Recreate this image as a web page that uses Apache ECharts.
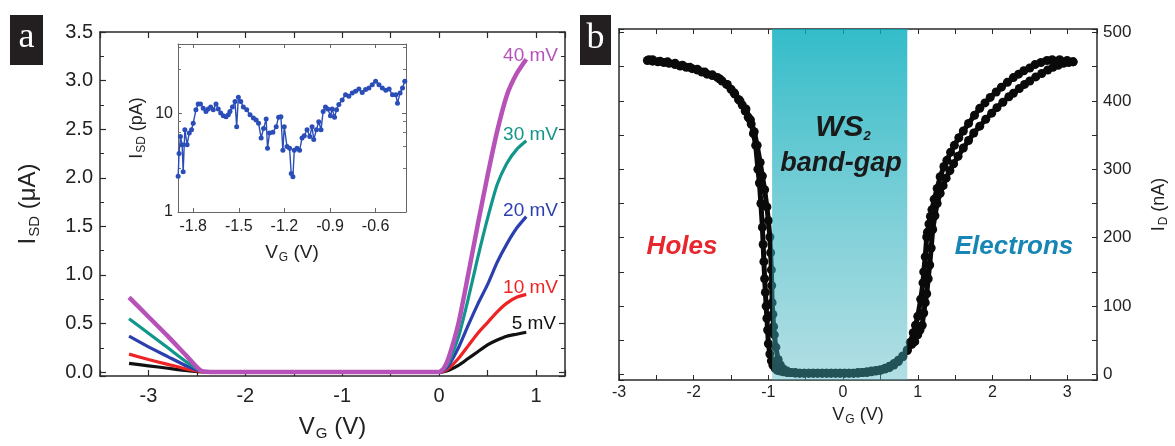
<!DOCTYPE html>
<html>
<head>
<meta charset="utf-8">
<script src="https://cdn.jsdelivr.net/npm/echarts@6/dist/echarts.min.js"></script>
<style>
    html,body{margin:0;padding:0;background:#fff;}
    #chart{width:1175px;height:446px;}
</style>
</head>
<body>
<div id="chart"></div>
<script>
// ---- (a) I_SD vs V_G at five bias voltages ----
var biasNames = ['5 mV', '10 mV', '20 mV', '30 mV', '40 mV'];
var biasColors = ['#111111', '#ee2424', '#2b3fae', '#10968a', '#b652b8'];
var gateV = [-3.2, -3.0, -2.8, -2.6, -2.45, -2.3, 0, 0.05, 0.1, 0.2, 0.3, 0.4, 0.5, 0.6, 0.7, 0.8, 0.9];
var isd5  = [0.09, 0.065, 0.04, 0.015, 0.003, 0, 0, 0.005, 0.02, 0.07, 0.14, 0.21, 0.28, 0.33, 0.37, 0.39, 0.41];
var isd10 = [0.185, 0.13, 0.08, 0.03, 0.005, 0, 0, 0.01, 0.04, 0.14, 0.27, 0.4, 0.51, 0.62, 0.71, 0.77, 0.8];
var isd20 = [0.37, 0.26, 0.16, 0.06, 0.01, 0, 0, 0.02, 0.07, 0.25, 0.48, 0.7, 0.9, 1.13, 1.32, 1.48, 1.6];
var isd30 = [0.55, 0.40, 0.25, 0.1, 0.01, 0, 0, 0.03, 0.1, 0.36, 0.75, 1.18, 1.58, 1.93, 2.15, 2.29, 2.38];
var isd40 = [0.77, 0.57, 0.37, 0.16, 0.01, 0, 0, 0.04, 0.15, 0.5, 1.0, 1.52, 2.02, 2.48, 2.85, 3.07, 3.22];

// inset: I_SD (pA) on log scale
var insetV = [-1.899, -1.893, -1.884, -1.873, -1.866, -1.855, -1.840, -1.826, -1.811, -1.800,
    -1.782, -1.767, -1.752, -1.734, -1.716, -1.701, -1.685, -1.668, -1.650, -1.635,
    -1.619, -1.602, -1.584, -1.569, -1.558, -1.542, -1.525, -1.514, -1.503, -1.487,
    -1.470, -1.448, -1.426, -1.404, -1.386, -1.370, -1.353, -1.337, -1.320, -1.311,
    -1.298, -1.276, -1.254, -1.238, -1.223, -1.210, -1.201, -1.183, -1.166, -1.155,
    -1.144, -1.135, -1.117, -1.100, -1.084, -1.069, -1.051, -1.033, -1.018, -1.007,
    -0.989, -0.974, -0.959, -0.945, -0.930, -0.915, -0.897, -0.886, -0.870, -0.857,
    -0.842, -0.820, -0.798, -0.776, -0.754, -0.732, -0.710, -0.688, -0.666, -0.644,
    -0.622, -0.600, -0.578, -0.556, -0.533, -0.511, -0.489, -0.467, -0.456, -0.439,
    -0.423, -0.408];
var insetI = [2.3, 3.9, 5.8, 4.8, 2.55, 6.8, 4.8, 6.3, 6.8, 7.9,
    10.8, 12.4, 12.4, 11.2, 10.4, 11, 11.5, 10.8, 12.4, 11,
    10, 9.4, 9.2, 9.6, 10.4, 11.5, 13.1, 7.3, 14.5, 13.1,
    11.5, 10.8, 9.6, 8.9, 8.5, 7.9, 5.6, 7.0, 8.7, 4.4,
    6.3, 6.4, 7.3, 9.1, 9.2, 4.2, 7.3, 4.6, 4.4, 2.45,
    2.27, 4.2, 4.4, 4.2, 5.6, 5.9, 6.8, 5.8, 7.3, 5.4,
    6.8, 8.2, 6.8, 10.4, 11.5, 11, 9.4, 11, 9.1, 10.8,
    12.2, 13.6, 15.3, 14.8, 16, 16.6, 17.5, 16.2, 17.3, 17.9,
    19.4, 21, 19.4, 17.9, 17, 17.5, 15.3, 15.3, 12.6, 16,
    17.9, 21];

// ---- (b) I_D vs V_G, two sweep directions ----
var sweepAV = [-2.62, -2.55, -2.48, -2.4, -2.33, -2.25, -2.18, -2.1, -2.02, -1.95,
    -1.89, -1.82, -1.75, -1.68, -1.62, -1.56, -1.5, -1.45, -1.4, -1.35,
    -1.31, -1.27, -1.23, -1.2, -1.17, -1.14, -1.12, -1.1, -1.08, -1.07,
    -1.06, -1.05, -1.04, -1.03, -1.02, -1.01, -1.0, -0.98, -0.96, -0.94,
    -0.91, -0.88, -0.84, -0.8, -0.75, -0.7, -0.64, -0.58, -0.52, -0.46,
    -0.4, -0.34, -0.28, -0.22, -0.16, -0.1, -0.04, 0.02, 0.08, 0.14,
    0.2, 0.26, 0.32, 0.38, 0.44, 0.5, 0.56, 0.62, 0.68, 0.74,
    0.8, 0.86, 0.92, 0.96, 1.0, 1.03, 1.06, 1.08, 1.1, 1.12,
    1.14, 1.16, 1.18, 1.2, 1.23, 1.26, 1.3, 1.34, 1.38, 1.43,
    1.48, 1.54, 1.61, 1.68, 1.75, 1.83, 1.91, 1.99, 2.06, 2.14,
    2.22, 2.28, 2.36, 2.43, 2.5, 2.58, 2.66, 2.74, 2.81, 2.88,
    2.95, 3.02, 3.08];
var sweepAI = [459, 458, 457, 456, 455, 453, 451, 449, 447, 445,
    442, 439, 437, 434, 429, 424, 417, 410, 402, 394,
    385, 376, 366, 352, 335, 300, 280, 250, 215, 190,
    165, 140, 120, 100, 82, 65, 45, 30, 20, 14,
    9, 6, 5, 4, 3, 3, 2, 2, 2, 2,
    2, 2, 2, 2, 2, 2, 2, 2, 2, 2,
    3, 3, 4, 5, 6, 7, 9, 12, 16, 21,
    27, 35, 44, 48, 58, 65, 72, 90, 105, 118,
    140, 160, 185, 212, 232, 250, 265, 276, 287, 298,
    308, 319, 331, 342, 353, 363, 373, 382, 390, 398,
    406, 411, 418, 424, 429, 435, 440, 445, 449, 452,
    455, 456, 457];
var sweepBV = [3.08, 3.0, 2.9, 2.8, 2.73, 2.65, 2.57, 2.5, 2.42, 2.35,
    2.28, 2.2, 2.12, 2.05, 1.97, 1.9, 1.83, 1.76, 1.68, 1.61,
    1.55, 1.49, 1.44, 1.39, 1.35, 1.3, 1.26, 1.22, 1.19, 1.17,
    1.15, 1.13, 1.12, 1.1, 1.08, 1.07, 1.04, 1.0, 0.97, 0.94,
    0.9, 0.86, 0.8, 0.74, 0.68, 0.62, 0.56, 0.5, 0.44, 0.38,
    0.32, 0.26, 0.2, 0.14, 0.08, 0.02, -0.04, -0.1, -0.16, -0.22,
    -0.28, -0.34, -0.4, -0.46, -0.52, -0.58, -0.64, -0.7, -0.75, -0.8,
    -0.84, -0.87, -0.9, -0.92, -0.93, -0.94, -0.95, -0.955, -0.96, -0.97,
    -0.98, -1.0, -1.02, -1.05, -1.08, -1.11, -1.15, -1.19, -1.24, -1.3,
    -1.38, -1.46, -1.55, -1.65, -1.75, -1.85, -1.95, -2.05, -2.15, -2.25,
    -2.35, -2.45, -2.55, -2.6];
var sweepBI = [457, 459, 460, 460, 459, 456, 453, 448, 444, 439,
    434, 427, 420, 413, 405, 397, 389, 379, 367, 356,
    346, 335, 325, 313, 304, 289, 272, 256, 241, 231,
    220, 208, 201, 172, 150, 134, 110, 85, 72, 61,
    47, 36, 26, 19, 14, 10, 8, 6, 5, 4,
    3, 3, 2, 2, 2, 2, 2, 2, 2, 2,
    2, 2, 2, 2, 2, 2, 3, 3, 5, 8,
    14, 22, 40, 58, 70, 88, 105, 130, 153, 178,
    201, 225, 245, 270, 290, 310, 335, 355, 372, 388,
    400, 412, 424, 432, 438, 442, 446, 449, 452, 455,
    457, 458, 460, 460];
var bandEdges = [-0.95, 0.86];   // WS2 band-gap region (V)

var FONT = 'Liberation Sans';

function pairs(xs, ys) {
    var out = [];
    for (var i = 0; i < xs.length; i++) {
        out.push([xs[i], ys[i]]);
    }
    return out;
}

function isMult(v, step) {
    var q = v / step;
    return Math.abs(q - Math.round(q)) < 1e-6;
}

// 公共坐标轴样式
function axisBase(extra) {
    var o = {
        axisLine: {show: true, onZero: false, lineStyle: {color: '#2a2a2a', width: 1.5}},
        axisTick: {show: true, inside: true, length: 6, lineStyle: {color: '#2a2a2a', width: 1.2}},
        minorTick: {show: false},
        splitLine: {show: false},
        axisLabel: {show: false}
    };
    for (var k in extra) {
        o[k] = extra[k];
    }
    return o;
}

var subRich = function (big, small) {
    return {
        m: {fontSize: big, fontFamily: FONT, color: '#222'},
        s: {fontSize: small, fontFamily: FONT, color: '#222', verticalAlign: 'bottom', padding: [big * 0.5, 0, 0, 1]}
    };
};

var chart = echarts.init(document.getElementById('chart'));

var aSeries = [isd5, isd10, isd20, isd30, isd40].map(function (vals, i) {
    return {
        name: biasNames[i],
        type: 'line',
        xAxisIndex: 0,
        yAxisIndex: 0,
        data: pairs(gateV, vals),
        showSymbol: false,
        smooth: 0.2,
        lineStyle: {color: biasColors[i], width: i === 4 ? 4.5 : 3.2},
        z: 2 + i
    };
});

function sweepSeries(name, xs, ys) {
    return {
        name: name,
        type: 'line',
        xAxisIndex: 4,
        yAxisIndex: 4,
        data: pairs(xs, ys),
        symbol: 'circle',
        symbolSize: 9,
        lineStyle: {color: '#0a0a0a', width: 5, cap: 'round', join: 'round'},
        itemStyle: {color: '#0a0a0a'},
        z: 2
    };
}

var option = {
    animation: false,
    grid: [
        {left: 100, top: 32, width: 465, height: 345},
        {left: 178, top: 44, width: 228, height: 168, show: true, backgroundColor: '#fff', borderWidth: 0},
        {left: 619, top: 29, width: 478, height: 351}
    ],
    xAxis: [
        axisBase({
            type: 'value', gridIndex: 0, min: -3.5, max: 1.3, interval: 0.5, position: 'bottom',
            name: '{m|V}{s|G}{m| (V)}', nameLocation: 'middle', nameGap: 38,
            nameTextStyle: {rich: subRich(24, 15)},
            axisLabel: {show: true, margin: 10, fontSize: 20, fontFamily: FONT, color: '#222',
                formatter: function (v) { return isMult(v, 1) ? String(Math.round(v)) : ''; }}
        }),
        axisBase({type: 'value', gridIndex: 0, min: -3.5, max: 1.3, interval: 0.5, position: 'top'}),
        axisBase({
            type: 'value', gridIndex: 1, min: -1.9, max: -0.4, splitNumber: 5, position: 'bottom',
            axisLine: {show: true, onZero: false, lineStyle: {color: '#666', width: 1}},
            axisTick: {show: true, inside: true, length: 4, lineStyle: {color: '#666'}},
            name: '{m|V}{s|G}{m| (V)}', nameLocation: 'middle', nameGap: 30,
            nameTextStyle: {rich: subRich(19, 12)},
            axisLabel: {show: true, margin: 7, fontSize: 16, fontFamily: FONT, color: '#222',
                showMinLabel: false, showMaxLabel: false,
                formatter: function (v) { return isMult(v, 0.3) ? v.toFixed(1) : ''; }}
        }),
        axisBase({
            type: 'value', gridIndex: 1, min: -1.9, max: -0.4, splitNumber: 5, position: 'top',
            axisLine: {show: true, onZero: false, lineStyle: {color: '#666', width: 1}},
            axisTick: {show: true, inside: true, length: 4, lineStyle: {color: '#666'}}
        }),
        axisBase({
            type: 'value', gridIndex: 2, min: -3, max: 3.4, interval: 0.5, position: 'bottom',
            axisTick: {show: true, inside: true, length: 5, lineStyle: {color: '#2a2a2a', width: 1}},
            name: '{m|V}{s|G}{m| (V)}', nameLocation: 'middle', nameGap: 18,
            nameTextStyle: {rich: subRich(18, 12)},
            axisLabel: {show: true, margin: 5, fontSize: 16, fontFamily: FONT, color: '#222',
                formatter: function (v) { return isMult(v, 1) ? String(Math.round(v)) : ''; }}
        }),
        axisBase({
            type: 'value', gridIndex: 2, min: -3, max: 3.4, interval: 0.5, position: 'top',
            axisTick: {show: true, inside: true, length: 5, lineStyle: {color: '#2a2a2a', width: 1}}
        })
    ],
    yAxis: [
        axisBase({
            type: 'value', gridIndex: 0, min: -0.04, max: 3.5, splitNumber: 7, position: 'left',
            minorTick: {show: true, splitNumber: 2, length: 4, lineStyle: {color: '#2a2a2a'}},
            name: '{m|I}{s|SD}{m| (μA)}', nameLocation: 'middle', nameGap: 58,
            nameTextStyle: {rich: subRich(24, 15)},
            axisLabel: {show: true, margin: 7, fontSize: 20, fontFamily: FONT, color: '#222',
                formatter: function (v) { return isMult(v, 0.5) ? v.toFixed(1) : ''; }}
        }),
        axisBase({
            type: 'value', gridIndex: 0, min: -0.04, max: 3.5, splitNumber: 7, position: 'right',
            minorTick: {show: true, splitNumber: 2, length: 4, lineStyle: {color: '#2a2a2a'}}
        }),
        axisBase({
            type: 'log', gridIndex: 1, min: 1, max: 50, logBase: 10, position: 'left',
            axisLine: {show: true, onZero: false, lineStyle: {color: '#666', width: 1}},
            axisTick: {show: true, inside: true, length: 4, lineStyle: {color: '#666'}},
            minorTick: {show: true, splitNumber: 5, length: 3, lineStyle: {color: '#777'}},
            name: '{m|I}{s|SD}{m| (pA)}', nameLocation: 'middle', nameGap: 30,
            nameTextStyle: {rich: subRich(18, 12)},
            axisLabel: {show: true, margin: 5, fontSize: 16, fontFamily: FONT, color: '#222',
                formatter: function (v) {
                    var l = Math.log(v) / Math.LN10;
                    return Math.abs(l - Math.round(l)) < 1e-6 ? String(Math.round(v)) : '';
                }}
        }),
        axisBase({
            type: 'log', gridIndex: 1, min: 1, max: 50, logBase: 10, position: 'right',
            axisLine: {show: true, onZero: false, lineStyle: {color: '#666', width: 1}},
            axisTick: {show: true, inside: true, length: 4, lineStyle: {color: '#666'}},
            minorTick: {show: true, splitNumber: 5, length: 3, lineStyle: {color: '#777'}}
        }),
        axisBase({
            type: 'value', gridIndex: 2, min: -8, max: 505, splitNumber: 5, position: 'right',
            axisTick: {show: true, inside: true, length: 5, lineStyle: {color: '#2a2a2a', width: 1}},
            minorTick: {show: true, splitNumber: 2, length: 5, lineStyle: {color: '#2a2a2a'}},
            name: '{m|I}{s|D}{m| (nA)}', nameLocation: 'middle', nameGap: 52,
            nameTextStyle: {rich: subRich(18, 12)},
            axisLabel: {show: true, margin: 6, fontSize: 17, fontFamily: FONT, color: '#222',
                formatter: function (v) { return isMult(v, 100) ? String(Math.round(v)) : ''; }}
        }),
        axisBase({
            type: 'value', gridIndex: 2, min: -8, max: 505, splitNumber: 5, position: 'left',
            axisTick: {show: true, inside: true, length: 5, lineStyle: {color: '#2a2a2a', width: 1}},
            minorTick: {show: true, splitNumber: 2, length: 5, lineStyle: {color: '#2a2a2a'}}
        })
    ],
    series: aSeries.concat([
        {
            name: 'inset',
            type: 'line',
            xAxisIndex: 2,
            yAxisIndex: 2,
            data: pairs(insetV, insetI),
            symbol: 'circle',
            symbolSize: 5,
            lineStyle: {color: '#2a4db8', width: 1.4},
            itemStyle: {color: '#2a4db8'},
            z: 10
        },
        sweepSeries('sweepA', sweepAV, sweepAI),
        sweepSeries('sweepB', sweepBV, sweepBI),
        {
            // 带隙区域，半透明覆盖在数据点之上
            name: 'band',
            type: 'custom',
            xAxisIndex: 4,
            yAxisIndex: 4,
            data: [[bandEdges[0], bandEdges[1]]],
            z: 5,
            renderItem: function (params, api) {
                var p0 = api.coord([api.value(0), 0]);
                var p1 = api.coord([api.value(1), 0]);
                var cs = params.coordSys;
                return {
                    type: 'rect',
                    shape: {x: p0[0], y: cs.y, width: p1[0] - p0[0], height: cs.height},
                    style: {
                        fill: new echarts.graphic.LinearGradient(0, 0, 0, 1, [
                            {offset: 0, color: 'rgba(0,172,188,0.80)'},
                            {offset: 1, color: 'rgba(70,178,190,0.42)'}
                        ])
                    }
                };
            }
        }
    ]),
    graphic: [
        {type: 'rect', shape: {x: 10, y: 15, width: 33, height: 50}, style: {fill: '#231f20'}},
        {type: 'text', x: 26.5, y: 38, style: {text: 'a', fill: '#fff', font: '36px "Liberation Serif"', align: 'center', verticalAlign: 'middle'}},
        {type: 'rect', shape: {x: 580, y: 15, width: 31, height: 50}, style: {fill: '#231f20'}},
        {type: 'text', x: 595.5, y: 39, style: {text: 'b', fill: '#fff', font: '36px "Liberation Serif"', align: 'center', verticalAlign: 'middle'}},

        {type: 'text', x: 558, y: 56, z: 20, style: {text: '40 mV', fill: biasColors[4], font: '19px "Liberation Sans"', align: 'right', verticalAlign: 'middle'}},
        {type: 'text', x: 558, y: 135, z: 20, style: {text: '30 mV', fill: biasColors[3], font: '19px "Liberation Sans"', align: 'right', verticalAlign: 'middle'}},
        {type: 'text', x: 558, y: 211, z: 20, style: {text: '20 mV', fill: biasColors[2], font: '19px "Liberation Sans"', align: 'right', verticalAlign: 'middle'}},
        {type: 'text', x: 558, y: 288, z: 20, style: {text: '10 mV', fill: biasColors[1], font: '19px "Liberation Sans"', align: 'right', verticalAlign: 'middle'}},
        {type: 'text', x: 556, y: 324, z: 20, style: {text: '5 mV', fill: biasColors[0], font: '19px "Liberation Sans"', align: 'right', verticalAlign: 'middle'}},

        {type: 'text', x: 843, y: 128, z: 20, style: {
            text: '{w|WS}{s|2}', align: 'center', verticalAlign: 'middle',
            rich: {
                w: {font: 'italic bold 30px "Liberation Sans"', fill: '#1a1a1a'},
                s: {font: 'italic bold 13px "Liberation Sans"', fill: '#1a1a1a', verticalAlign: 'bottom'}
            }
        }},
        {type: 'text', x: 841, y: 164, z: 20, style: {text: 'band-gap', fill: '#1a1a1a', font: 'italic bold 27px "Liberation Sans"', align: 'center', verticalAlign: 'middle'}},
        {type: 'text', x: 682, y: 247, z: 20, style: {text: 'Holes', fill: '#e8262e', font: 'italic bold 26px "Liberation Sans"', align: 'center', verticalAlign: 'middle'}},
        {type: 'text', x: 1014, y: 247, z: 20, style: {text: 'Electrons', fill: '#1886b4', font: 'italic bold 26px "Liberation Sans"', align: 'center', verticalAlign: 'middle'}}
    ]
};

chart.setOption(option);
</script>
</body>
</html>
